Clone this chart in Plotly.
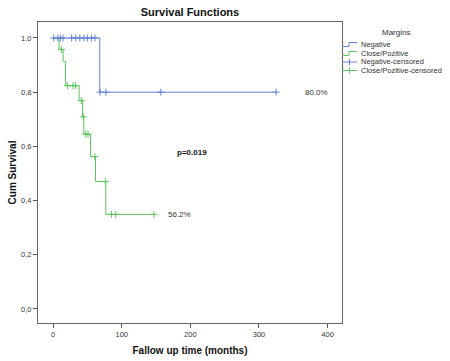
import plotly.graph_objects as go

# Kaplan-Meier step data (months, survival)
neg_t = [0, 68, 325]
neg_s = [1.0, 0.8, 0.8]
neg_cens_t = [1, 7, 10.5, 14.5, 27, 33, 39, 45, 50, 56, 61, 68.5, 77, 157, 325]
neg_cens_s = [1.0] * 11 + [0.8] * 4

pos_t = [0, 8.7, 14.6, 18, 37.9, 42.9, 44.8, 54.5, 61.8, 76.8, 147]
pos_s = [1.0, 0.958, 0.914, 0.824, 0.769, 0.709, 0.645, 0.562, 0.470, 0.349, 0.349]
pos_cens_t = [12.2, 21, 29, 33, 41, 44, 47.7, 51, 60.8, 76, 85, 91.4, 147]
pos_cens_s = [0.958, 0.824, 0.824, 0.824, 0.769, 0.709, 0.645, 0.645, 0.562, 0.470, 0.349, 0.349, 0.349]

y_ticks = [0.0, 0.2, 0.4, 0.6, 0.8, 1.0]
y_labels = ["0,0", "0,2", "0,4", "0,6", "0,8", "1,0"]
x_ticks = [0, 100, 200, 300, 400]

legend_names = ["Negative", "Close/Pozitive", "Negative-censored", "Close/Pozitive-censored"]

BLUE = "#6381d4"
GREEN = "#5cc65c"
FONT = "Arial, Liberation Sans"

W, H = 450, 361
L, R, T, B = 38, 108, 22, 38
PW, PH = W - L - R, H - T - B


def px(x):
    return (x - L) / PW


def py(y):
    return 1 - (y - T) / PH


fig = go.Figure()
fig.add_trace(go.Scatter(x=pos_t, y=pos_s, mode="lines", line=dict(color=GREEN, width=1, shape="hv"),
                         showlegend=False))
fig.add_trace(go.Scatter(x=pos_cens_t, y=pos_cens_s, mode="markers",
                         marker=dict(symbol="cross-thin", size=5, line=dict(color=GREEN, width=1)),
                         showlegend=False))
fig.add_trace(go.Scatter(x=neg_t, y=neg_s, mode="lines", line=dict(color=BLUE, width=1, shape="hv"),
                         showlegend=False))
fig.add_trace(go.Scatter(x=neg_cens_t, y=neg_cens_s, mode="markers",
                         marker=dict(symbol="cross-thin", size=5, line=dict(color=BLUE, width=1)),
                         showlegend=False))

# manual legend
fig.add_annotation(xref="paper", yref="paper", x=px(396), y=py(32.5), text="Margins", showarrow=False,
                   xanchor="center", yanchor="middle", font=dict(size=8, color="#333", family=FONT))
rows = [44.5, 53.5, 62, 70.5]
colors = [BLUE, GREEN, BLUE, GREEN]
for i, (name, col, ry) in enumerate(zip(legend_names, colors, rows)):
    if i < 2:
        path = (f"M {px(342)},{py(ry + 2)} L {px(349)},{py(ry + 2)} L {px(349)},{py(ry - 2)} "
                f"L {px(357)},{py(ry - 2)}")
        fig.add_shape(type="path", path=path, xref="paper", yref="paper", line=dict(color=col, width=1))
    else:
        fig.add_shape(type="line", xref="paper", yref="paper", x0=px(342), x1=px(357), y0=py(ry), y1=py(ry),
                      line=dict(color=col, width=1))
        fig.add_shape(type="line", xref="paper", yref="paper", x0=px(349.5), x1=px(349.5),
                      y0=py(ry - 3), y1=py(ry + 3), line=dict(color=col, width=1))
    fig.add_annotation(xref="paper", yref="paper", x=px(359), y=py(ry), text=name, showarrow=False,
                       xanchor="left", yanchor="middle", font=dict(size=7.5, color="#333", family=FONT))

fig.add_annotation(x=364, y=0.8, text="80.0%", showarrow=False, xanchor="left",
                   font=dict(size=8, color="#333", family=FONT))
fig.add_annotation(x=164, y=0.349, text="56.2%", showarrow=False, xanchor="left",
                   font=dict(size=8, color="#333", family=FONT))
fig.add_annotation(x=202, y=0.576, text="<b>p=0.019</b>", showarrow=False,
                   font=dict(size=8, color="#111", family=FONT))

axis_common = dict(showline=True, linecolor="#666", linewidth=1, mirror=True, ticks="outside",
                   ticklen=4, tickcolor="#555", showgrid=False, zeroline=False, automargin=False,
                   tickfont=dict(size=7.5, color="#333", family=FONT))

fig.update_layout(
    width=W, height=H,
    margin=dict(l=L, r=R, t=T, b=B, autoexpand=False),
    paper_bgcolor="white", plot_bgcolor="white",
    showlegend=False,
    title=dict(text="<b>Survival Functions</b>", x=190 / W, xanchor="center", y=1 - 12 / H, yanchor="middle",
               font=dict(size=11, color="#111", family=FONT)),
    xaxis=dict(range=[-22, 421], tickvals=x_ticks,
               title=dict(text="<b>Fallow up time (months)</b>", standoff=8,
                          font=dict(size=10, color="#111", family=FONT)),
               **axis_common),
    yaxis=dict(range=[-0.052, 1.059], tickvals=y_ticks, ticktext=y_labels,
               title=dict(text="<b>Cum Survival</b>", standoff=2,
                          font=dict(size=10, color="#111", family=FONT)),
               **axis_common),
)

fig.write_html("out.html", config={"displayModeBar": False},
               post_script="document.body.style.margin='0px';document.body.style.overflow='hidden';")
